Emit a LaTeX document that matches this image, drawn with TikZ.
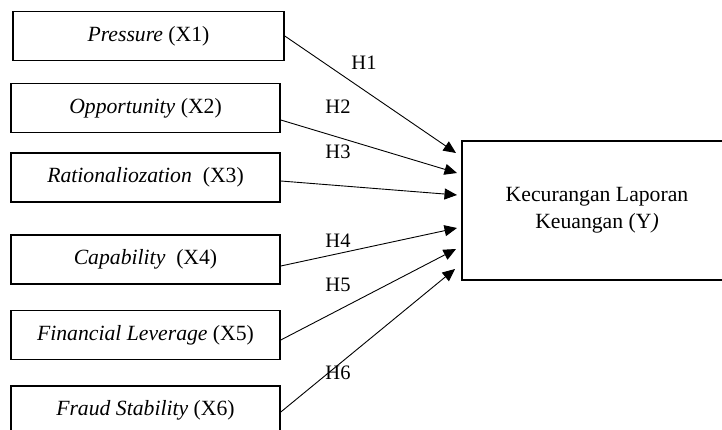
\documentclass[tikz,border=0pt]{standalone}
\usepackage{fontspec}
\setmainfont{Liberation Serif}
\usetikzlibrary{arrows.meta}
\begin{document}
\begin{tikzpicture}[x=1pt,y=-1pt,
  xbox/.style={draw, line width=1.6pt, minimum width=269pt, minimum height=49pt, inner sep=0pt, font=\fontsize{21.7}{26}\selectfont},
  ybox/.style={draw, line width=1.2pt, minimum width=270pt, minimum height=139pt, inner sep=0pt, align=center, font=\fontsize{21.7}{27}\selectfont},
  link/.style={line width=0.9pt, -{Triangle[length=12.5pt,width=11pt]}},
  hlab/.style={inner sep=0pt, font=\fontsize{20.5}{24}\selectfont}]
\useasboundingbox (0,0) rectangle (722,430);
\clip (0,0) rectangle (722,430);
\node[xbox, minimum width=271pt] (x1) at (148.5,36) {\textit{Pressure} (X1)};
\node[xbox] (x2) at (145.5,108) {\textit{Opportunity} (X2)};
\node[xbox] (x3) at (145.5,177.5) {\textit{Rationaliozation}\ \ (X3)};
\node[xbox] (x4) at (145.5,259.5) {\textit{Capability}\ \ (X4)};
\node[xbox] (x5) at (145.5,335) {\textit{Financial Leverage} (X5)};
\node[xbox] (x6) at (145.5,410.5) {\textit{Fraud Stability} (X6)};
\node[ybox] (y) at (597,210.5) {Kecurangan Laporan\\Keuangan (Y\textit{)}};
\coordinate (t1) at (456,153);
\coordinate (t2) at (457,173);
\coordinate (t3) at (457,195);
\coordinate (t4) at (457,228);
\coordinate (t5) at (456,249);
\coordinate (t6) at (455,269);
\draw[link] (x1.east) -- (t1);
\draw[link] ([yshift=-12pt]x2.east) -- (t2);
\draw[link] ([yshift=-3.5pt]x3.east) -- (t3);
\draw[link] ([yshift=-6.5pt]x4.east) -- (t4);
\draw[link] ([yshift=-5pt]x5.east) -- (t5);
\draw[link] ([yshift=-1.5pt]x6.east) -- (t6);
\node[hlab] (h1) at (364,63) {H1};
\node[hlab] (h2) at (338,107) {H2};
\node[hlab] (h3) at (338,152) {H3};
\node[hlab] (h4) at (338,241) {H4};
\node[hlab] (h5) at (338,285) {H5};
\node[hlab] (h6) at (338,373) {H6};
\end{tikzpicture}
\end{document}
